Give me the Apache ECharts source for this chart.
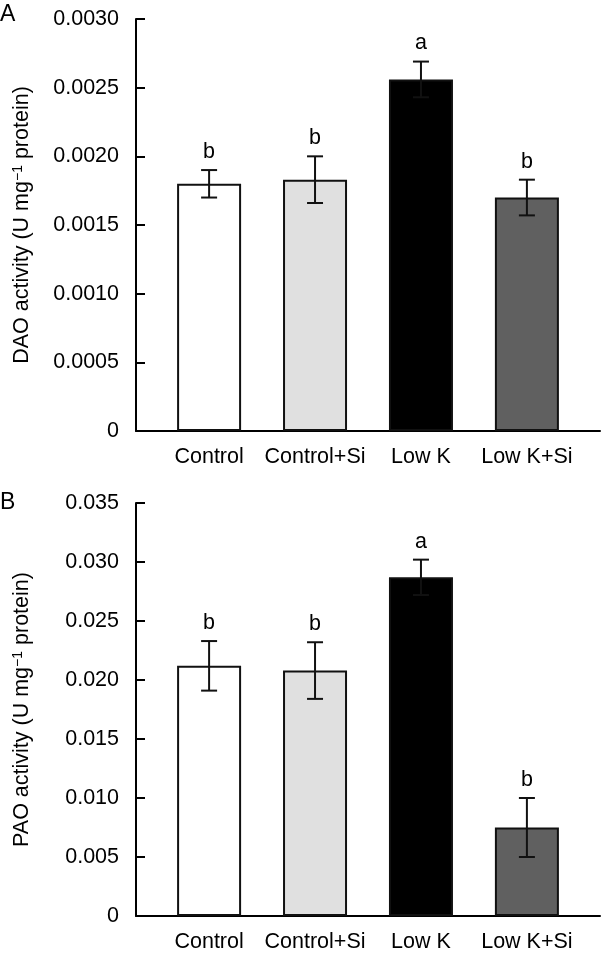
<!DOCTYPE html>
<html><head><meta charset="utf-8">
<script src="https://cdn.jsdelivr.net/npm/echarts@6/dist/echarts.min.js"></script>
<style>html,body{margin:0;padding:0;background:#fff}#c{width:601px;height:955px}</style>
</head><body><div id="c"></div>
<script>
const categories = ['Control', 'Control+Si', 'Low K', 'Low K+Si'];
const daoMean = [0.00180, 0.00183, 0.00256, 0.00170];
const daoSE   = [0.00010, 0.00017, 0.00013, 0.00013];
const daoLetters = ['b', 'b', 'a', 'b'];
const paoMean = [0.0212, 0.0208, 0.0287, 0.0075];
const paoSE   = [0.0021, 0.0024, 0.0015, 0.0025];
const paoLetters = ['b', 'b', 'a', 'b'];
const daoTicks = ['0', '0.0005', '0.0010', '0.0015', '0.0020', '0.0025', '0.0030'];
const paoTicks = ['0', '0.005', '0.010', '0.015', '0.020', '0.025', '0.030', '0.035'];

const barColors = ['#ffffff', '#e0e0e0', '#000000', '#606060'];
const FONT = 'Liberation Sans';
const FS = 21.5;

function xAxis(gi) {
  return {
    type: 'value', gridIndex: gi, min: -0.69, max: 3.69,
    axisLine: { show: true, onZero: false, lineStyle: { color: '#000', width: 2 } },
    axisTick: { show: false },
    splitLine: { show: false },
    axisLabel: {
      customValues: [0, 1, 2, 3],
      formatter: v => categories[Math.round(v)] || '',
      color: '#000', fontFamily: FONT, fontSize: FS, margin: 15
    }
  };
}
function yAxis(gi, max, interval, ticks, name) {
  return {
    type: 'value', gridIndex: gi, min: 0, max: max, interval: interval,
    axisLine: { show: true, onZero: false, lineStyle: { color: '#000', width: 2 } },
    axisTick: { show: true, inside: true, length: 9, lineStyle: { color: '#000', width: 2 } },
    splitLine: { show: false },
    axisLabel: {
      formatter: v => ticks[Math.round(v / interval)],
      color: '#000', fontFamily: FONT, fontSize: FS, margin: 17
    },
    name: name, nameLocation: 'middle', nameGap: 103,
    nameTextStyle: {
      color: '#000', fontFamily: FONT, fontSize: FS,
      rich: { n: { fontFamily: FONT, fontSize: FS, color: '#000' },
              s: { fontFamily: FONT, fontSize: 14, color: '#000', verticalAlign: 'top', padding: [0, 0, 8, 0] } }
    }
  };
}
function barSeries(gi, means) {
  return {
    type: 'bar', xAxisIndex: gi, yAxisIndex: gi, barWidth: 64,
    data: means.map((m, i) => ({ value: [i, m], itemStyle: { color: barColors[i], borderColor: '#111', borderWidth: 2 } })),
    z: 2
  };
}
function errSeries(gi, means, ses, letters) {
  return {
    type: 'custom', xAxisIndex: gi, yAxisIndex: gi, z: 5,
    data: means.map((m, i) => [i, m, ses[i], letters[i]]),
    renderItem: function (params, api) {
      const x = api.value(0), m = api.value(1), s = api.value(2);
      const top = api.coord([x, m + s]);
      const bot = api.coord([x, m - s]);
      const cap = 8;
      const st = { stroke: '#111', lineWidth: 2 };
      return {
        type: 'group', children: [
          { type: 'line', shape: { x1: top[0], y1: top[1], x2: bot[0], y2: bot[1] }, style: st },
          { type: 'line', shape: { x1: top[0] - cap, y1: top[1], x2: top[0] + cap, y2: top[1] }, style: st },
          { type: 'line', shape: { x1: bot[0] - cap, y1: bot[1], x2: bot[0] + cap, y2: bot[1] }, style: st },
          { type: 'text', style: { text: letters[params.dataIndex], x: top[0], y: top[1] - 7, textAlign: 'center', textVerticalAlign: 'bottom', fontFamily: FONT, fontSize: FS, fill: '#000' } }
        ]
      };
    }
  };
}

const chart = echarts.init(document.getElementById('c'), null, { renderer: 'canvas' });
chart.setOption({
  animation: false,
  backgroundColor: '#fff',
  title: [
    { text: 'A', left: 0, top: 3, padding: 0, textStyle: { fontFamily: FONT, fontSize: 23, fontWeight: 'normal', color: '#000' } },
    { text: 'B', left: 0, top: 491, padding: 0, textStyle: { fontFamily: FONT, fontSize: 23, fontWeight: 'normal', color: '#000' } }
  ],
  grid: [
    { left: 136, top: 19, right: 1, height: 412 },
    { left: 136, top: 503, right: 1, height: 413 }
  ],
  xAxis: [xAxis(0), xAxis(1)],
  yAxis: [
    yAxis(0, 0.003, 0.0005, daoTicks, '{n|DAO activity (U mg}{s|−1}{n| protein)}'),
    yAxis(1, 0.035, 0.005, paoTicks, '{n|PAO activity (U mg}{s|−1}{n| protein)}')
  ],
  series: [
    barSeries(0, daoMean), errSeries(0, daoMean, daoSE, daoLetters),
    barSeries(1, paoMean), errSeries(1, paoMean, paoSE, paoLetters)
  ]
});
</script></body></html>
